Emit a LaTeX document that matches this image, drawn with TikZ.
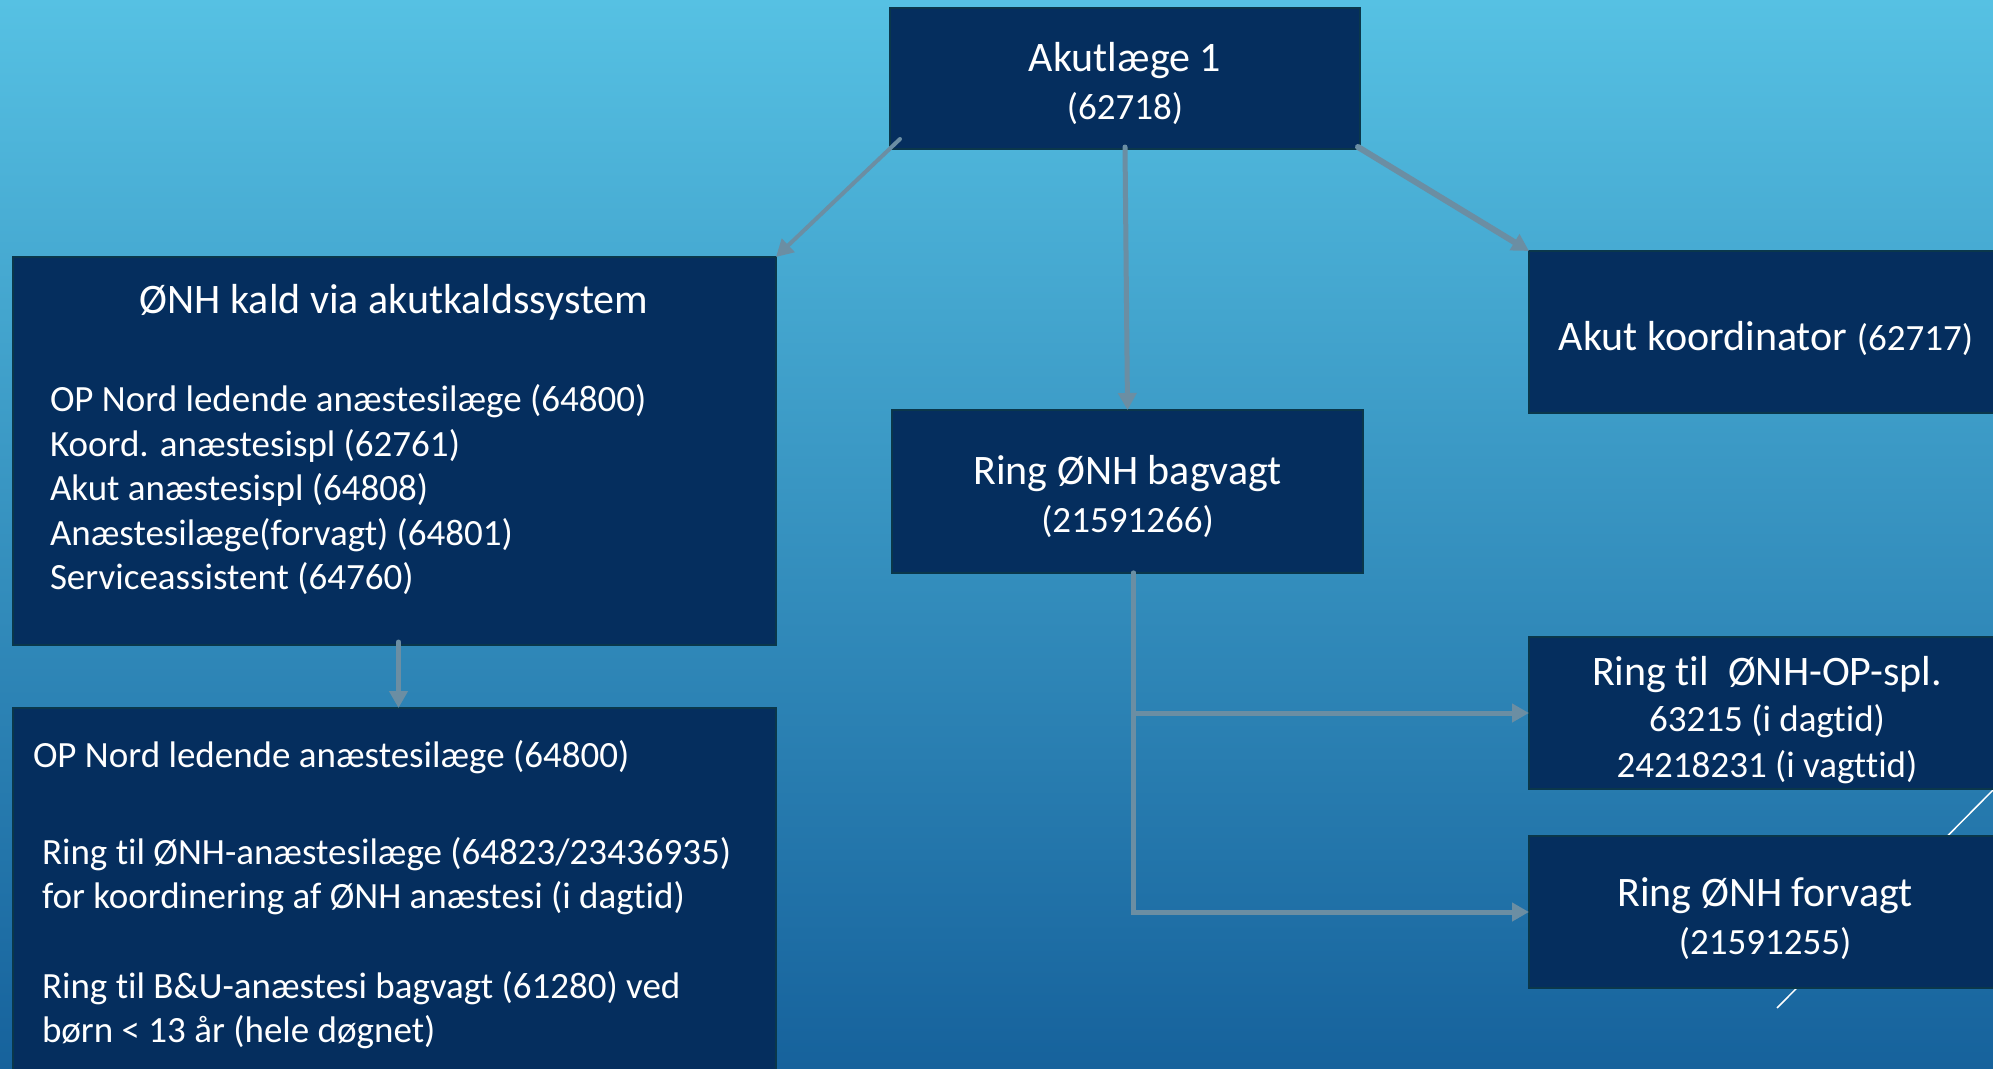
\documentclass[tikz,border=0pt]{standalone}
\usepackage{fontspec}
\setmainfont{Carlito}[Ligatures=NoCommon]
\usetikzlibrary{arrows.meta,calc}
\definecolor{navy}{RGB}{5,46,94}
\definecolor{boxedge}{RGB}{10,55,75}
\definecolor{connc}{RGB}{107,142,163}
\definecolor{bgtop}{RGB}{86,193,227}
\definecolor{bgmid}{RGB}{52,150,196}
\definecolor{bgbot}{RGB}{22,98,156}
\begin{document}
\begin{tikzpicture}[x=1pt,y=-1pt,
  box/.style={draw=boxedge, line width=1.5pt, fill=navy, inner sep=0pt, outer sep=0pt},
  txt/.style={text=white, inner sep=0pt, outer sep=0pt, align=center},
  big/.style={font=\fontsize{42}{48}\selectfont},
  body/.style={font=\fontsize{37}{44.5}\selectfont},
  connector/.style={draw=connc, line width=5pt, line cap=round, -{Triangle[length=17pt,width=18pt]}}]
\useasboundingbox (0,0) rectangle (1993,1068);
\clip (0,0) rectangle (1993,1068);
\shade[top color=bgtop, middle color=bgmid, bottom color=bgbot] (0,0) rectangle (1993,1068);
\draw[white, line width=1.5pt] (2000,783) -- (1777,1008);

% boxes
\node[box, minimum width=470pt, minimum height=141pt] (akut) at (1125,78.5) {};
\node[box, minimum width=763pt, minimum height=388pt] (kald) at (394.5,451) {};
\node[box, minimum width=763pt, minimum height=372pt] (opnord) at (394.5,894) {};
\node[box, minimum width=476pt, minimum height=162pt] (koord) at (1767,332) {};
\node[box, minimum width=471pt, minimum height=163pt] (bag) at (1127.5,491.5) {};
\node[box, minimum width=476pt, minimum height=152pt] (opspl) at (1767,713) {};
\node[box, minimum width=476pt, minimum height=152pt] (forvagt) at (1767,912) {};

% texts
\node[txt, big] (akutT) at ($(akut.center)+(0,5)$)
  {Akutlæge 1\\{\fontsize{37}{48}\selectfont (62718)}};
\node[txt, big] (koordT) at ($(koord.center)+(-1,6)$)
  {Akut koordinator {\fontsize{37}{48}\selectfont (62717)}};
\node[txt, big] (bagT) at ($(bag.center)+(0,5)$)
  {Ring ØNH bagvagt\\{\fontsize{37}{48}\selectfont (21591266)}};
\node[txt, font=\fontsize{42}{46}\selectfont] (opsplT) at ($(opspl.center)+(0,7)$)
  {Ring til~ ØNH-OP-spl.\\{\fontsize{37}{46}\selectfont 63215 (i dagtid)}\\{\fontsize{37}{46}\selectfont 24218231 (i vagttid)}};
\node[txt, big] (forvagtT) at ($(forvagt.center)+(-2,7)$)
  {Ring ØNH forvagt\\{\fontsize{37}{48}\selectfont (21591255)}};

\node[txt, big] (kaldhead) at (394,302) {ØNH kald via akutkaldssystem};
\node[txt, body, align=left, anchor=west] (kaldlist) at (50,490)
  {OP Nord ledende anæstesilæge (64800)\\Koord. anæstesispl (62761)\\Akut anæstesispl (64808)\\Anæstesilæge(forvagt) (64801)\\Serviceassistent (64760)};
\node[txt, body, anchor=west] (opnordlead) at (33,757) {OP Nord ledende anæstesilæge (64800)};
\node[txt, body, align=left, anchor=west] (opnordring) at (42,943)
  {Ring til ØNH-anæstesilæge (64823/23436935)\\for koordinering af ØNH anæstesi (i dagtid)\\[45pt]Ring til B\&U-anæstesi bagvagt (61280) ved\\børn < 13 år (hele døgnet)};

% connectors
\draw[connector, line width=4pt] ($(akut.south west)+(10,-10)$) -- (kald.north east);
\draw[connector] ($(akut.south)+(0,-2)$) -- (bag.north);
\draw[connector, line width=6pt] ($(akut.south east)+(-2,-2)$) -- (koord.north west);
\draw[connector] ($(kald.south)+(4,-3)$) -- ($(opnord.north)+(4,0)$);
\coordinate (j) at ($(bag.south)+(6,0)$);
\draw[connector] (j) |- (opspl.west);
\draw[connector] (j) |- (forvagt.west);
\end{tikzpicture}
\end{document}
